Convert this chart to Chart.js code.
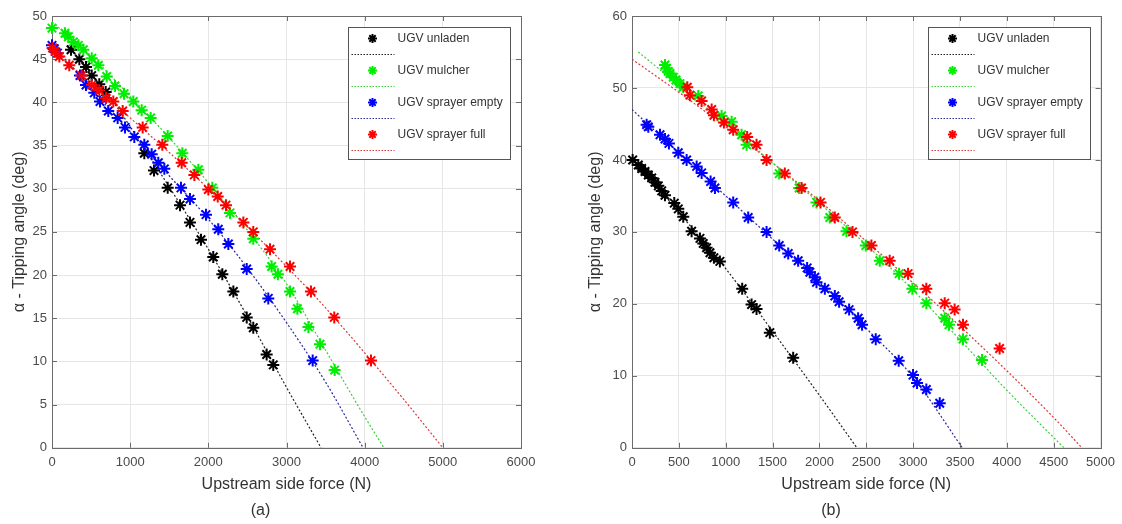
<!DOCTYPE html>
<html>
<head>
<meta charset="utf-8">
<title>Tipping angle vs upstream side force</title>
<script src="https://cdn.jsdelivr.net/npm/chart.js@4.4.1/dist/chart.umd.min.js"></script>
<style>
  html, body { margin: 0; padding: 0; background: #fff; }
  #wrap { position: relative; width: 1122px; height: 524px; }
  .panel { position: absolute; top: 0; width: 561px; height: 524px; }
</style>
</head>
<body>
<div id="wrap">
  <div class="panel" style="left:0"><canvas id="chartA" width="561" height="524"></canvas></div>
  <div class="panel" style="left:561px"><canvas id="chartB" width="561" height="524"></canvas></div>
</div>
<script>
const SERIES_LABELS = ['UGV unladen', 'UGV mulcher', 'UGV sprayer empty', 'UGV sprayer full'];
const MARKER_COLORS = ['#000000', '#00ee00', '#0000ff', '#ff0000'];
const FIT_COLORS    = ['#222222', '#3ccf3c', '#2a2a9a', '#d83a3a'];

// ---- panel (a): measured points, [force N, angle deg] ----
const unladenA = [[243,46.1],[350,45.0],[435,44.1],[508,43.1],[605,42.1],[687,41.2],[1181,34.1],[1305,32.1],
  [1480,30.1],[1638,28.1],[1765,26.1],[1906,24.1],[2063,22.1],[2179,20.1],[2320,18.1],[2491,15.1],
  [2575,13.9],[2746,10.8],[2831,9.6]];
const mulcherA = [[0,48.6],[166,48.0],[209,47.6],[273,47.0],[337,46.6],[401,46.1],[508,45.1],[593,44.3],
  [700,43.0],[806,41.9],[921,41.0],[1040,40.1],[1147,39.1],[1262,38.2],[1480,36.1],[1667,34.1],
  [1872,32.2],[2051,30.1],[2277,27.2],[2575,24.2],[2810,21.0],[2890,20.1],[3045,18.1],[3139,16.1],
  [3280,14.0],[3428,12.0],[3616,9.0]];
const sprayerEmptyA = [[0,46.6],[30,46.2],[70,45.7],[358,43.1],[435,42.0],[541,41.1],[614,40.1],[720,39.0],
  [840,38.2],[934,37.1],[1053,36.0],[1181,35.1],[1275,34.0],[1360,33.0],[1437,32.3],[1650,30.1],
  [1765,28.8],[1970,27.0],[2127,25.3],[2256,23.6],[2491,20.7],[2767,17.3],[3335,10.1]];
const sprayerFullA = [[8,46.3],[38,45.9],[94,45.3],[221,44.3],[380,43.1],[508,42.0],[605,41.4],[691,40.5],
  [784,40.1],[904,39.0],[1160,37.1],[1411,35.1],[1659,33.0],[1821,31.6],[2000,29.9],[2120,29.1],
  [2226,28.1],[2448,26.1],[2575,25.0],[2789,23.0],[3045,21.0],[3313,18.1],[3611,15.1],[4081,10.1]];

// panel (a): fitted curves
const unladenFitA      = [[200,46.6],[700,41.1],[1000,37.2],[1500,30.2],[2000,23.0],[2500,15.2],[3000,7.0],[3442,0]];
const mulcherFitA      = [[0,49.3],[500,45.4],[1000,40.7],[1500,35.9],[2000,30.7],[2500,25.2],[3000,19.0],[3500,11.3],[4000,3.6],[4247,0]];
const sprayerEmptyFitA = [[0,46.8],[500,41.6],[1000,36.6],[1500,31.5],[2000,26.5],[2500,20.8],[3000,14.5],[3500,7.6],[3980,0]];
const sprayerFullFitA  = [[0,46.2],[500,42.2],[1000,38.2],[1500,34.2],[2000,30.0],[2500,25.6],[3000,21.0],[3500,16.2],[4000,11.0],[4500,5.6],[5000,0]];

// ---- panel (b): measured points ----
const unladenB = [[7,40.0],[67,39.3],[103,38.8],[139,38.4],[174,37.9],[210,37.5],[245,36.9],[281,36.4],
  [317,35.7],[352,35.1],[451,34.0],[494,33.2],[547,32.1],[636,30.1],[725,29.1],[760,28.4],[796,27.8],
  [832,27.1],[874,26.4],[938,25.9],[1176,22.1],[1276,19.9],[1329,19.3],[1471,16.0],[1720,12.5]];
const mulcherB = [[352,53.2],[370,52.7],[387,52.3],[405,52.0],[441,51.5],[469,51.1],[512,50.6],[547,50.1],
  [707,48.9],[956,46.1],[1063,45.3],[1169,43.5],[1223,42.1],[1571,38.1],[1784,36.1],[1969,34.1],
  [2111,32.0],[2289,30.1],[2495,28.1],[2644,26.0],[2850,24.2],[2992,22.1],[3141,20.1],[3337,18.0],
  [3383,17.1],[3532,15.1],[3735,12.2]];
const sprayerEmptyB = [[156,44.9],[174,44.6],[299,43.5],[352,42.9],[394,42.3],[494,41.0],[583,40.0],[690,39.1],
  [743,38.2],[839,37.0],[885,36.1],[1080,34.1],[1240,32.0],[1436,30.0],[1571,28.1],[1667,27.0],
  [1773,26.0],[1869,25.0],[1898,24.4],[1951,23.7],[1969,23.0],[2058,22.1],[2164,21.1],[2210,20.3],
  [2317,19.2],[2413,18.0],[2455,17.1],[2601,15.1],[2846,12.1],[2999,10.1],[3042,9.0],[3141,8.1],[3284,6.2]];
const sprayerFullB = [[590,50.1],[618,49.0],[743,48.2],[850,47.0],[874,46.2],[981,45.2],[1080,44.2],[1229,43.2],
  [1329,42.1],[1436,40.0],[1631,38.1],[1809,36.1],[2012,34.1],[2164,32.0],[2353,30.0],[2555,28.1],
  [2750,26.0],[2946,24.2],[3141,22.1],[3337,20.1],[3443,19.2],[3532,17.1],[3923,13.8]];

// panel (b): fitted curves
const unladenFitB      = [[0,40.3],[500,32.7],[1000,24.9],[1500,16.2],[2000,7.3],[2400,0]];
const mulcherFitB      = [[67,55.0],[500,50.4],[1000,45.1],[1500,39.6],[2000,34.0],[2500,28.2],[3000,21.9],[3500,15.0],[4000,8.0],[4609,0]];
const sprayerEmptyFitB = [[0,47.0],[500,41.0],[1000,35.0],[1500,29.0],[2000,23.1],[2500,16.6],[3000,9.8],[3525,0]];
const sprayerFullFitB  = [[0,54.0],[500,49.4],[1000,44.6],[1500,39.6],[2000,34.3],[2500,28.7],[3000,22.9],[3500,16.9],[4000,10.7],[4500,4.2],[4801,0]];

// axis ticks
const xTicksA = [0, 1000, 2000, 3000, 4000, 5000, 6000];
const yTicksA = [0, 5, 10, 15, 20, 25, 30, 35, 40, 45, 50];
const xTicksB = [0, 500, 1000, 1500, 2000, 2500, 3000, 3500, 4000, 4500, 5000];
const yTicksB = [0, 10, 20, 30, 40, 50, 60];

const FONT = '"Liberation Sans", Arial, Helvetica, sans-serif';
const toXY = arr => arr.map(([x, y]) => ({ x, y }));

function buildDatasets(points, fits) {
    const markers = points.map((data, i) => ({
        label: SERIES_LABELS[i],
        data: toXY(data),
        showLine: false,
        pointStyle: 'star',
        pointRadius: 6,
        pointHoverRadius: 6,
        pointBorderWidth: 2,
        borderColor: MARKER_COLORS[i],
        backgroundColor: MARKER_COLORS[i],
        clip: false,
        order: 3 - i,           // later series sit on top
    }));
    const curves = fits.map((data, i) => ({
        label: SERIES_LABELS[i] + ' fit',
        data: toXY(data),
        showLine: true,
        pointRadius: 0,
        borderColor: FIT_COLORS[i],
        borderWidth: 1.2,
        borderDash: [2, 2],
        cubicInterpolationMode: 'monotone',
        fill: false,
        order: 10,
    }));
    return [...markers, ...curves];
}

// box around the plot area with inward tick marks
const axesBox = {
    id: 'axesBox',
    beforeDatasetsDraw(chart) {
        const { ctx, chartArea: a, scales: { x, y } } = chart;
        ctx.save();
        ctx.strokeStyle = '#6b6b6b';
        ctx.lineWidth = 1;
        ctx.strokeRect(Math.round(a.left) + 0.5, Math.round(a.top) + 0.5,
                       Math.round(a.right - a.left), Math.round(a.bottom - a.top));
        ctx.beginPath();
        x.ticks.forEach(t => {
            const px = Math.round(x.getPixelForValue(t.value)) + 0.5;
            ctx.moveTo(px, a.bottom); ctx.lineTo(px, a.bottom - 5);
            ctx.moveTo(px, a.top);    ctx.lineTo(px, a.top + 5);
        });
        y.ticks.forEach(t => {
            const py = Math.round(y.getPixelForValue(t.value)) + 0.5;
            ctx.moveTo(a.left, py);  ctx.lineTo(a.left + 5, py);
            ctx.moveTo(a.right, py); ctx.lineTo(a.right - 5, py);
        });
        ctx.stroke();
        ctx.restore();
    }
};

// MATLAB-style legend: marker row, then the fit line row underneath
const fitLegend = {
    id: 'fitLegend',
    afterDraw(chart) {
        const { ctx, chartArea: a } = chart;
        const w = 162, h = 132;
        const left = Math.round(a.right - 11 - w) + 0.5;
        const top = Math.round(a.top + 11) + 0.5;
        ctx.save();
        ctx.fillStyle = '#fff';
        ctx.fillRect(left, top, w, h);
        ctx.strokeStyle = '#555';
        ctx.lineWidth = 1;
        ctx.strokeRect(left, top, w, h);

        ctx.font = '12px ' + FONT;
        ctx.textBaseline = 'middle';
        ctx.textAlign = 'left';
        SERIES_LABELS.forEach((label, i) => {
            const rowY = top + 11 + i * 32;
            const mx = left + 24;
            // asterisk marker
            ctx.strokeStyle = MARKER_COLORS[i];
            ctx.lineWidth = 2;
            ctx.beginPath();
            for (let k = 0; k < 4; k++) {
                const ang = k * Math.PI / 4;
                const dx = Math.cos(ang) * 4.5, dy = Math.sin(ang) * 4.5;
                ctx.moveTo(mx - dx, rowY - dy);
                ctx.lineTo(mx + dx, rowY + dy);
            }
            ctx.stroke();
            ctx.fillStyle = '#333';
            ctx.fillText(label, left + 49, rowY);
            // dotted fit sample
            ctx.strokeStyle = FIT_COLORS[i];
            ctx.lineWidth = 1;
            ctx.setLineDash([1.5, 1.5]);
            ctx.beginPath();
            ctx.moveTo(left + 3, rowY + 16);
            ctx.lineTo(left + 46, rowY + 16);
            ctx.stroke();
            ctx.setLineDash([]);
        });
        ctx.restore();
    }
};

function createPanel(canvasId, datasets, xTicks, yTicks, yAxisWidth, yTitlePad, rightPad, caption) {
    return new Chart(document.getElementById(canvasId).getContext('2d'), {
        type: 'scatter',
        data: { datasets },
        options: {
            responsive: false,
            animation: false,
            events: [],
            layout: { padding: { left: 0, right: rightPad, top: 16, bottom: 0 } },
            plugins: {
                legend: { display: false },
                tooltip: { enabled: false },
                title: {
                    display: true,
                    position: 'bottom',
                    text: caption,
                    color: '#333',
                    font: { family: FONT, size: 16, weight: 'normal' },
                    padding: { top: 5, bottom: 4 },
                },
            },
            scales: {
                x: {
                    type: 'linear',
                    min: xTicks[0],
                    max: xTicks[xTicks.length - 1],
                    afterBuildTicks: s => { s.ticks = xTicks.map(v => ({ value: v })); },
                    afterFit: s => { s.height = 48; },
                    grid: { color: '#e6e6e6', drawTicks: false },
                    border: { display: false },
                    ticks: { color: '#4a4a4a', padding: 7, maxRotation: 0,
                             callback: v => String(v),
                             font: { family: FONT, size: 13 } },
                    title: { display: true, text: 'Upstream side force (N)', color: '#333',
                             font: { family: FONT, size: 16 }, padding: { top: 0, bottom: 2 } },
                },
                y: {
                    type: 'linear',
                    min: yTicks[0],
                    max: yTicks[yTicks.length - 1],
                    afterBuildTicks: s => { s.ticks = yTicks.map(v => ({ value: v })); },
                    afterFit: s => { s.width = yAxisWidth; },
                    grid: { color: '#e6e6e6', drawTicks: false },
                    border: { display: false },
                    ticks: { color: '#4a4a4a', padding: 5, callback: v => String(v),
                             font: { family: FONT, size: 13 } },
                    title: { display: true, text: 'α - Tipping angle (deg)', color: '#333',
                             font: { family: FONT, size: 16 }, padding: { top: yTitlePad, bottom: 0 } },
                },
            },
        },
        plugins: [axesBox, fitLegend],
    });
}

createPanel('chartA',
    buildDatasets([unladenA, mulcherA, sprayerEmptyA, sprayerFullA],
                  [unladenFitA, mulcherFitA, sprayerEmptyFitA, sprayerFullFitA]),
    xTicksA, yTicksA, 52, 10, 40, '(a)');

createPanel('chartB',
    buildDatasets([unladenB, mulcherB, sprayerEmptyB, sprayerFullB],
                  [unladenFitB, mulcherFitB, sprayerEmptyFitB, sprayerFullFitB]),
    xTicksB, yTicksB, 71, 25, 21, '(b)');
</script>
</body>
</html>
